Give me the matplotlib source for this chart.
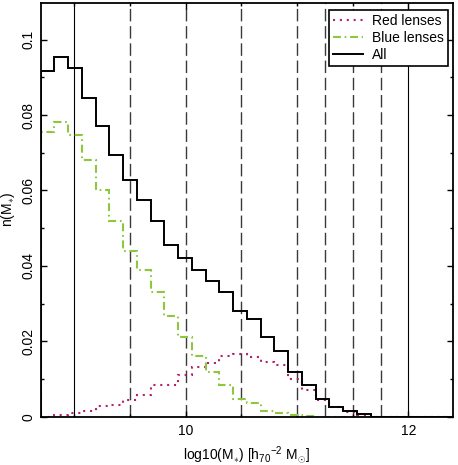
import numpy as np
import matplotlib
matplotlib.use("Agg")
import matplotlib.pyplot as plt
from matplotlib.ticker import FixedLocator, FixedFormatter, MultipleLocator

plt.rcParams['font.family'] = ['Liberation Sans', 'DejaVu Sans']
plt.rcParams['mathtext.fontset'] = 'custom'
plt.rcParams['mathtext.rm'] = 'Liberation Sans'
plt.rcParams['mathtext.it'] = 'Liberation Sans'
plt.rcParams['mathtext.bf'] = 'Liberation Sans:bold'

# ---- data ----
bin_edges = np.linspace(8.7, 12.4, 31)
n_all = [0.0917, 0.0955, 0.0925, 0.0845, 0.0772, 0.0693, 0.0627, 0.0574, 0.0519, 0.0455,
         0.0420, 0.0390, 0.0360, 0.0330, 0.0281, 0.0258, 0.0212, 0.0175, 0.0119, 0.0083,
         0.0047, 0.0026, 0.0014, 0.0006, 0.0, 0.0, 0.0, 0.0, 0.0, 0.0]
n_blue = [0.0756, 0.0781, 0.0748, 0.0680, 0.0600, 0.0520, 0.0440, 0.0389, 0.0330, 0.0268,
          0.0212, 0.0162, 0.0118, 0.0083, 0.0046, 0.0037, 0.0016, 0.0009, 0.0004, 0.0002,
          0.0, 0.0, 0.0, 0.0, 0.0, 0.0, 0.0, 0.0, 0.0, 0.0]
n_red = [0.0, 0.0004, 0.0010, 0.0016, 0.0028, 0.0031, 0.0044, 0.0057, 0.0084, 0.0084,
         0.0110, 0.0131, 0.0142, 0.0162, 0.0166, 0.0159, 0.0145, 0.0137, 0.0100, 0.0072,
         0.0045, 0.0025, 0.0013, 0.0005, 0.0, 0.0, 0.0, 0.0, 0.0, 0.0]
solid_lines = [9.0, 12.0]
dashed_lines = [9.5, 10.0, 10.5, 11.0, 11.25, 11.5, 11.75]
x_ticks = [10, 12]
x_ticklabels = ['10', '12']
y_ticks = [0, 0.02, 0.04, 0.06, 0.08, 0.1]
y_ticklabels = ['0', '0.02', '0.04', '0.06', '0.08', '0.1']

fig = plt.figure(figsize=(4.58, 4.65), dpi=100)
ax = fig.add_axes([0.0889, 0.1039, 0.9003, 0.8896])

for x in solid_lines:
    ax.axvline(x, color='black', lw=0.8, zorder=1)
for x in dashed_lines:
    ax.axvline(x, color='#3a3a3a', lw=1.0, dashes=(9, 3.4), zorder=1)

red_color = '#b0246c'
green_color = '#8dc63f'
ax.stairs(n_red, bin_edges, color=red_color, lw=1.5, linestyle=(0, (1, 2.3)), zorder=2,
          label='Red lenses')
ax.stairs(n_blue, bin_edges, color=green_color, lw=1.5, linestyle=(0, (3.8, 1.8, 0.8, 1.8)),
          zorder=2, label='Blue lenses')
ax.stairs(n_all, bin_edges, color='black', lw=1.4, zorder=3, label='All')

ax.set_xlim(8.7, 12.4)
ax.set_ylim(0, 0.1097)

ax.xaxis.set_major_locator(FixedLocator(x_ticks))
ax.xaxis.set_major_formatter(FixedFormatter(x_ticklabels))
ax.xaxis.set_minor_locator(MultipleLocator(0.5))
ax.yaxis.set_major_locator(FixedLocator(y_ticks))
ax.yaxis.set_major_formatter(FixedFormatter(y_ticklabels))
ax.yaxis.set_minor_locator(MultipleLocator(0.01))
ax.tick_params(which='both', direction='in', top=True, right=True, width=1.0,
               labelsize=10, colors='black')
ax.tick_params(which='major', length=4.5)
ax.tick_params(which='minor', length=2.5)
ax.tick_params(axis='x', pad=5)
for lab in ax.get_yticklabels():
    lab.set_rotation(90)
    lab.set_va('center')
    lab.set_ha('center')
ax.tick_params(axis='y', pad=9)

for s in ax.spines.values():
    s.set_linewidth(1.3)

ax.set_xlabel(r'log10(M$_{\ast}$) [h$_{70}$$^{-2}$ M$_{\odot}$]', fontsize=10, labelpad=5)
ax.set_ylabel(r'n(M$_{\ast}$)', fontsize=10, labelpad=3)

leg = ax.legend(loc='upper right', bbox_to_anchor=(0.9886, 0.9831), borderaxespad=0,
                fontsize=10, fancybox=False, edgecolor='black', framealpha=1,
                handlelength=2.1, labelspacing=0.2, borderpad=0.3, handletextpad=0.7)
leg.get_frame().set_linewidth(1.2)

fig.savefig('out.png', dpi=100)
